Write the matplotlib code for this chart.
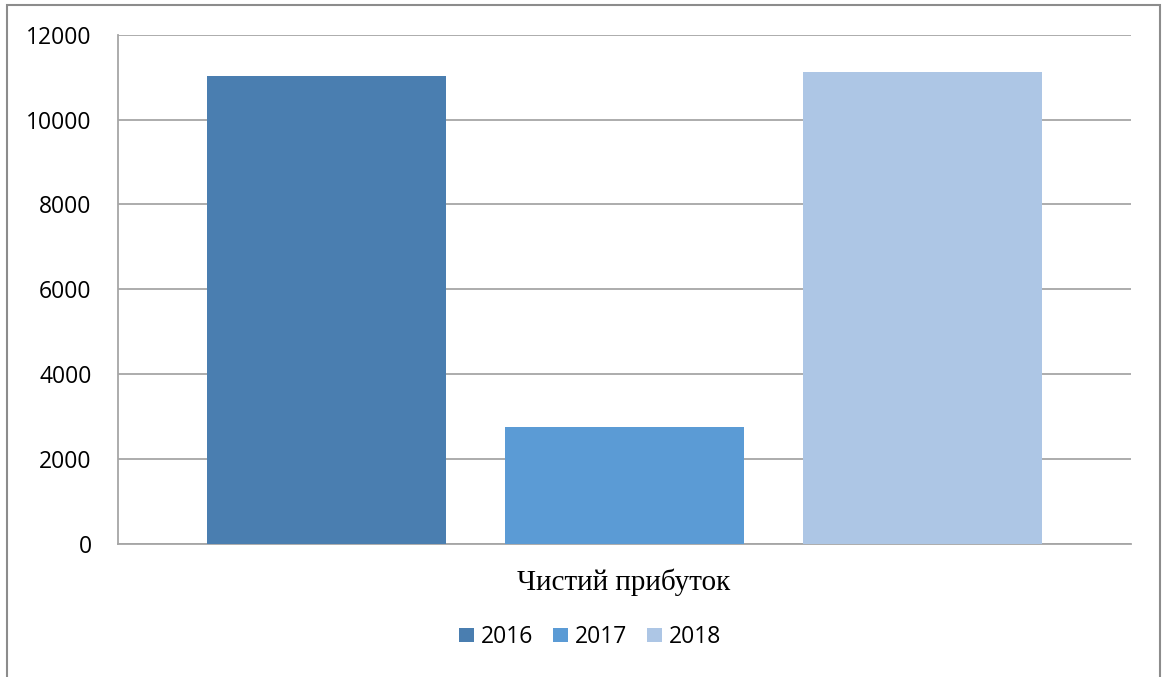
import numpy as np
import matplotlib.pyplot as plt
from matplotlib.patches import Rectangle, Patch

years = ['2016', '2017', '2018']
profit = [11030, 2760, 11120]  # net profit per year
colors = ['#4a7eb0', '#5b9bd5', '#adc6e5']
category = 'Чистий прибуток'

fig = plt.figure(figsize=(11.62, 6.77), dpi=100)
ax = fig.add_axes([118/1162, 1 - 544/677, (1131 - 118)/1162, (544 - 34.7)/677])

x = np.arange(len(years))
ax.bar(x, profit, width=0.8, color=colors, zorder=3)

ax.set_xlim(-0.7, 2.7)
ax.set_ylim(0, 12000)
ax.set_yticks(np.arange(0, 12001, 2000))
ax.set_xticks([])
ax.grid(axis='y', color='#a6a6a6', linewidth=1.3, zorder=0)
for s in ['top', 'right']:
    ax.spines[s].set_visible(False)
for s in ['left', 'bottom']:
    ax.spines[s].set_color('#a6a6a6')
    ax.spines[s].set_linewidth(1.3)
ax.tick_params(axis='y', length=0, pad=19, labelsize=16.5)
for lbl in ax.get_yticklabels():
    lbl.set_fontfamily('Open Sans')

# category label under the bars
fig.text(624/1162, 1 - 582/677, category, ha='center', va='center',
         fontsize=21, family='Liberation Serif')

handles = [Patch(facecolor=c, edgecolor='none') for c in colors]
fig.legend(handles, years, loc='center', bbox_to_anchor=(590/1162, 1 - 637/677),
           ncol=3, frameon=False, handlelength=0.62, handleheight=0.62,
           handletextpad=0.3, columnspacing=0.9,
           prop={'family': 'Open Sans', 'size': 16.5})

# chart frame
fig.patches.append(Rectangle((7/1162, -0.05), (1160 - 7)/1162, 1.05 - 5/677,
                             transform=fig.transFigure, fill=False,
                             edgecolor='#8c8c8c', linewidth=1.5))

fig.savefig('out.png', dpi=100)
